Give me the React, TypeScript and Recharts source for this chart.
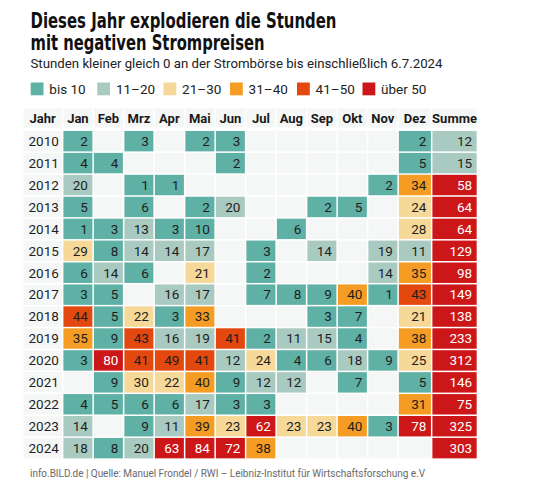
import { Scatter, ScatterChart, XAxis, YAxis } from "recharts";

const MONTHS = ["Jan", "Feb", "Mrz", "Apr", "Mai", "Jun", "Jul", "Aug", "Sep", "Okt", "Nov", "Dez"];
const YEARS = [2010, 2011, 2012, 2013, 2014, 2015, 2016, 2017, 2018, 2019, 2020, 2021, 2022, 2023, 2024];

// hours with price <= 0, Jan..Dez (null = none)
const h2010 = [2, null, 3, null, 2, 3, null, null, null, null, null, 2];
const h2011 = [4, 4, null, null, null, 2, null, null, null, null, null, 5];
const h2012 = [20, null, 1, 1, null, null, null, null, null, null, 2, 34];
const h2013 = [5, null, 6, null, 2, 20, null, null, 2, 5, null, 24];
const h2014 = [1, 3, 13, 3, 10, null, null, 6, null, null, null, 28];
const h2015 = [29, 8, 14, 14, 17, null, 3, null, 14, null, 19, 11];
const h2016 = [6, 14, 6, null, 21, null, 2, null, null, null, 14, 35];
const h2017 = [3, 5, null, 16, 17, null, 7, 8, 9, 40, 1, 43];
const h2018 = [44, 5, 22, 3, 33, null, null, null, 3, 7, null, 21];
const h2019 = [35, 9, 43, 16, 19, 41, 2, 11, 15, 4, null, 38];
const h2020 = [3, 80, 41, 49, 41, 12, 24, 4, 6, 18, 9, 25];
const h2021 = [null, 9, 30, 22, 40, 9, 12, 12, null, 7, null, 5];
const h2022 = [4, 5, 6, 6, 17, 3, 3, null, null, null, null, 31];
const h2023 = [14, null, 9, 11, 39, 23, 62, 23, 23, 40, 3, 78];
const h2024 = [18, 8, 20, 63, 84, 72, 38, null, null, null, null, null];
const SUMME = [12, 15, 58, 64, 64, 129, 98, 149, 138, 233, 312, 146, 75, 325, 303];

const ROWS = [h2010, h2011, h2012, h2013, h2014, h2015, h2016, h2017, h2018, h2019, h2020, h2021, h2022, h2023, h2024];

const BIN_LABELS = ["bis 10", "11–20", "21–30", "31–40", "41–50", "über 50"];
const BIN_MAX = [10, 20, 30, 40, 50, Infinity];
const BIN_COLORS = ["#5fb0a5", "#a9cac1", "#f6d898", "#f49c23", "#e3480f", "#cc1618"];

// layout
const W = 554;
const H = 493;
const PLOT_LEFT = 22.7;
const PLOT_RIGHT = 477.4;
const PLOT_TOP = 130.2;
const PLOT_BOTTOM = 459.1;
const X_DOMAIN: [number, number] = [-1.31, 13.6];
const PPU = (PLOT_RIGHT - PLOT_LEFT) / (X_DOMAIN[1] - X_DOMAIN[0]);
const ROW_PX = (PLOT_BOTTOM - PLOT_TOP) / YEARS.length;
const HEADER_TOP = 108.5;
const HEADER_H = 19;
const GAP = 1.5;
const EMPTY = "#f5f7f6";
const TEXT = "#1e1e1e";
const FONT = "Roboto, 'Noto Sans', sans-serif";

const COLUMN_LABELS = ["Jahr", ...MONTHS, "Summe"];
// column spans in axis units
const colStart = (c: number) => (c === 0 ? X_DOMAIN[0] : c <= 12 ? c - 1 : 12.1);
const colEnd = (c: number) => (c === 0 ? 0 : c < 12 ? c : c === 12 ? 12.1 : 13.6);
const COL_CENTERS = COLUMN_LABELS.map((_, c) => (colStart(c) + colEnd(c)) / 2);
const COL_SPANS = COLUMN_LABELS.map((_, c) => colEnd(c) - colStart(c));

const binOf = (v: number) => BIN_MAX.findIndex((m) => v <= m);

const cells = ROWS.flatMap((row, r) =>
  [...row, SUMME[r]].map((v, i) => ({
    x: COL_CENTERS[i + 1],
    y: r + 0.5,
    span: COL_SPANS[i + 1],
    v,
  })),
);

const yearCells = YEARS.map((year, r) => ({ x: COL_CENTERS[0], y: r + 0.5, span: COL_SPANS[0], year }));

function HeatCell(props: any) {
  const { cx, cy, payload } = props;
  const w = payload.span * PPU - GAP;
  const h = ROW_PX - GAP;
  const v = payload.v as number | null;
  const bin = v == null ? -1 : binOf(v);
  return (
    <g>
      <rect x={cx - w / 2} y={cy - h / 2} width={w} height={h} fill={bin < 0 ? EMPTY : BIN_COLORS[bin]} />
      {v != null && (
        <text
          x={cx + w / 2 - 4.5}
          y={cy + 4.8}
          textAnchor="end"
          fontFamily={FONT}
          fontSize={13.5}
          fill={bin === 5 ? "#fff" : TEXT}
        >
          {v}
        </text>
      )}
    </g>
  );
}

function YearCell(props: any) {
  const { cx, cy, payload } = props;
  const w = payload.span * PPU - GAP;
  const h = ROW_PX - GAP;
  return (
    <g>
      <rect x={cx - w / 2} y={cy - h / 2} width={w} height={h} fill={EMPTY} />
      <text x={cx + 1} y={cy + 4.8} textAnchor="middle" fontFamily={FONT} fontSize={13.5} fill={TEXT}>
        {payload.year}
      </text>
    </g>
  );
}

function HeaderTick(props: any) {
  const { x, index } = props;
  const w = COL_SPANS[index] * PPU - GAP;
  return (
    <g>
      <rect x={x - w / 2} y={HEADER_TOP} width={w} height={HEADER_H} fill={EMPTY} />
      <text x={x} y={HEADER_TOP + 14} textAnchor="middle" fontFamily={FONT} fontWeight={700} fontSize={13} fill="#1a1a1a">
        {COLUMN_LABELS[index]}
      </text>
    </g>
  );
}

const LEGEND_X = [30.7, 97.3, 163.5, 230, 297, 362.5];

export default function App() {
  return (
    <div style={{ position: "absolute", left: 0, top: 0, width: W, height: H, background: "#fff" }}>
      <ScatterChart
        width={W}
        height={H}
        margin={{ top: PLOT_TOP - 22, right: W - PLOT_RIGHT, bottom: H - PLOT_BOTTOM, left: PLOT_LEFT }}
      >
        <XAxis
          type="number"
          dataKey="x"
          orientation="top"
          domain={X_DOMAIN}
          ticks={COL_CENTERS}
          interval={0}
          height={22}
          axisLine={false}
          tickLine={false}
          tick={<HeaderTick />}
          allowDataOverflow
        />
        <YAxis type="number" dataKey="y" domain={[0, YEARS.length]} reversed width={0} hide allowDataOverflow />
        <Scatter data={yearCells} shape={(p: any) => <YearCell {...p} />} isAnimationActive={false} />
        <Scatter data={cells} shape={(p: any) => <HeatCell {...p} />} isAnimationActive={false} />
      </ScatterChart>
      <svg width={W} height={H} style={{ position: "absolute", left: 0, top: 0, pointerEvents: "none" }}>
        <g fontFamily="'Liberation Sans Narrow', 'DejaVu Sans Condensed', Roboto, sans-serif" fontWeight={700} fontSize={20.5} fill="#111">
          <text x={30.5} y={28.3} textLength={306} lengthAdjust="spacingAndGlyphs">
            Dieses Jahr explodieren die Stunden
          </text>
          <text x={30.5} y={50.3} textLength={234} lengthAdjust="spacingAndGlyphs">
            mit negativen Strompreisen
          </text>
        </g>
        <text x={30.5} y={68.3} fontFamily={FONT} fontSize={13} fill="#222" textLength={412} lengthAdjust="spacingAndGlyphs">
          Stunden kleiner gleich 0 an der Strombörse bis einschließlich 6.7.2024
        </text>
        {BIN_LABELS.map((label, i) => (
          <g key={label}>
            <rect x={LEGEND_X[i]} y={82.5} width={12.8} height={12.8} fill={BIN_COLORS[i]} />
            <text x={LEGEND_X[i] + 18.6} y={93.8} fontFamily={FONT} fontSize={13.5} fill="#222">
              {label}
            </text>
          </g>
        ))}
        <text x={30} y={476.5} fontFamily={FONT} fontSize={10} fill="#6a6a6a" textLength={395} lengthAdjust="spacing">
          info.BILD.de | Quelle: Manuel Frondel / RWI – Leibniz-Institut für Wirtschaftsforschung e.V
        </text>
      </svg>
    </div>
  );
}
